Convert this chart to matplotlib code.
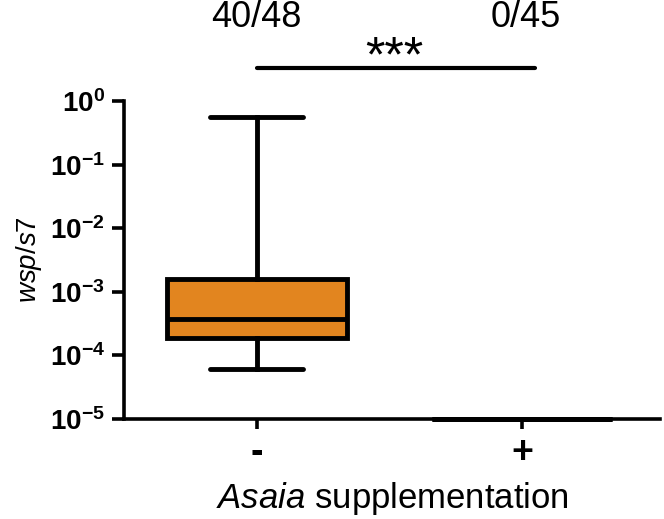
import numpy as np
import matplotlib.pyplot as plt
from matplotlib.ticker import LogLocator, FixedLocator, NullFormatter

plt.rcParams['font.family'] = ['Liberation Sans', 'DejaVu Sans']
plt.rcParams['mathtext.fontset'] = 'custom'
plt.rcParams['mathtext.rm'] = 'Liberation Sans'
plt.rcParams['mathtext.bf'] = 'Liberation Sans:bold'
plt.rcParams['mathtext.it'] = 'Liberation Sans:italic'

# box statistics
groups = ['-', '+']
whislo = [6.1e-5, 1e-5]
q1 = [1.85e-4, 1e-5]
med = [3.7e-4, 1e-5]
q3 = [1.6e-3, 1e-5]
whishi = [0.56, 1e-5]
counts = ['40/48', '0/45']
box_color = '#E2851F'

stats = []
for i in range(len(groups)):
    stats.append(dict(label=groups[i], whislo=whislo[i], q1=q1[i], med=med[i],
                      q3=q3[i], whishi=whishi[i], fliers=[]))

fig = plt.figure(figsize=(6.64, 5.19), dpi=100)
ax = fig.add_axes([0.187, 0.193, 0.807, 0.612])

lw = 3.5
bp = ax.bxp(stats, positions=[0, 1], widths=0.68, capwidths=0.35,
            patch_artist=True, showfliers=False,
            boxprops=dict(facecolor=box_color, edgecolor='black', linewidth=lw),
            medianprops=dict(color='black', linewidth=lw),
            whiskerprops=dict(color='black', linewidth=lw),
            capprops=dict(color='black', linewidth=lw, solid_capstyle='round'))
for k in ['boxes', 'medians', 'whiskers', 'caps']:
    for a in bp[k]:
        a.set_clip_on(False)
        a.set_zorder(5)

ax.set_yscale('log')
ax.set_ylim(1e-5, 1)
ax.set_xlim(-0.5, 1.52)

decades = [1e-5, 1e-4, 1e-3, 1e-2, 1e-1, 1e0]
ax.yaxis.set_major_locator(FixedLocator(decades))
ax.set_yticklabels([r'$\mathbf{10^{%d}}$' % int(np.log10(d)) for d in decades])
ax.yaxis.set_minor_locator(LogLocator(base=10, subs=np.arange(2, 10)))
ax.yaxis.set_minor_formatter(NullFormatter())

ax.set_xticks([0, 1])
ax.set_xticklabels(groups, fontsize=27, fontweight='bold')

for s in ['top', 'right']:
    ax.spines[s].set_visible(False)
for s in ['left', 'bottom']:
    ax.spines[s].set_linewidth(2.6)

ax.tick_params(axis='y', which='major', length=9, width=2.6, labelsize=20, pad=5)
ax.tick_params(axis='y', which='minor', length=5.5, width=2.0)
ax.tick_params(axis='x', which='major', length=7, width=2.6, pad=5)

ax.set_ylabel(r'$\it{wsp/s7}$', fontsize=20, labelpad=4)
ax.set_xlabel(r'$\it{Asaia}$ supplementation', fontsize=25, labelpad=6)

# annotations above the plot
tr = ax.get_xaxis_transform()
ax.plot([0, 1.05], [1.104, 1.104], color='black', linewidth=3, transform=tr,
        clip_on=False, solid_capstyle='round')
ax.text(0.52, 1.135, '***', transform=tr, ha='center', va='center', fontsize=36)
ax.text(0.0, 1.265, counts[0], transform=tr, ha='center', va='center', fontsize=26)
ax.text(1.015, 1.265, counts[1], transform=tr, ha='center', va='center', fontsize=26)

fig.savefig('out.png', dpi=100)
